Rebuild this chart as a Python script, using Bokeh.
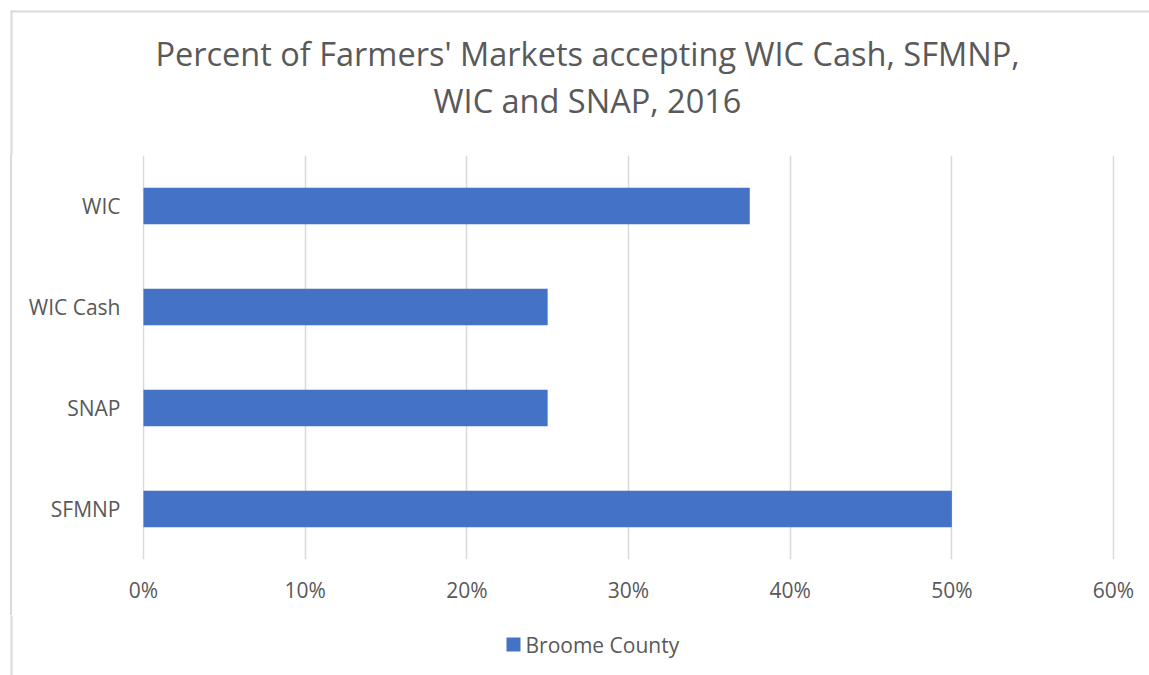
from bokeh.plotting import figure
from bokeh.layouts import column, row
from bokeh.models import Range1d, FactorRange, FixedTicker, NumeralTickFormatter, Div
from bokeh.core.properties import value
from bokeh.embed import file_html
from bokeh.resources import INLINE

categories = ["SFMNP", "SNAP", "WIC Cash", "WIC"]
values = [0.50, 0.25, 0.25, 0.375]
x_ticks = [0, 0.1, 0.2, 0.3, 0.4, 0.5, 0.6]
title_lines = ["Percent of Farmers' Markets accepting WIC Cash, SFMNP,", "WIC and SNAP, 2016"]
series_name = "Broome County"

FONT = "Open Sans"
TXT = "#595959"
BAR = "#4472C4"
GRID = "#d9d9d9"
EDGE = "#d9d9d9"

W, H = 1149, 675
TOP_H = 155          # title strip height
MID_H = 460          # main plot height
BOT_H = H - TOP_H - MID_H
STRIP_W = 13         # left strip carrying the chart border
FL, FR = 142, 1114   # frame edges (page px)


def blank(w, h):
    f = figure(width=w, height=h, x_range=Range1d(0, w), y_range=Range1d(h, 0),
               x_axis_type=None, y_axis_type=None, toolbar_location=None,
               output_backend="svg", min_border=0, title=None)
    f.outline_line_color = None
    f.grid.grid_line_color = None
    return f


# --- title strip ---
top = blank(W, TOP_H)
top.segment(x0=[10, 11], y0=[11, 10], x1=[W, 11], y1=[11, TOP_H + 2], line_color=EDGE, line_width=2)
top.text(x=[587, 587], y=[53, 100], text=title_lines, text_font=value(FONT),
         text_font_size="32.5px", text_color=TXT, text_align="center", text_baseline="alphabetic")

# --- left border strip (plain html element) ---
strip = Div(text="", width=STRIP_W, height=MID_H, margin=(0, 0, 0, 0),
            styles={"background": "linear-gradient(to right, white 0px, white 10px, #d9d9d9 10px, "
                                  "#d9d9d9 12px, white 12px)", "padding": "0px", "margin": "0px"})

# --- main plot ---
p = figure(width=W - STRIP_W, height=MID_H, y_range=FactorRange(*categories),
           x_range=Range1d(-0.0006, 0.6006), output_backend="svg", toolbar_location=None, title=None,
           min_border_left=FL - STRIP_W, min_border_right=W - FR, min_border_top=0,
           min_border_bottom=MID_H - 404)
p.outline_line_color = None
r = p.hbar(y=categories, right=values, left=0, height=0.36, color=BAR, line_color=None)
p.xaxis.ticker = FixedTicker(ticks=x_ticks)
p.xaxis.formatter = NumeralTickFormatter(format="0%")
for ax in (p.xaxis[0], p.yaxis[0]):
    ax.axis_line_color = None
    ax.major_tick_line_color = None
    ax.minor_tick_line_color = None
    ax.major_label_text_font = FONT
    ax.major_label_text_font_size = "21px"
    ax.major_label_text_color = TXT
p.xaxis.major_label_standoff = 10
p.yaxis.major_label_standoff = 16
p.ygrid.grid_line_color = None
p.xgrid.grid_line_color = GRID
p.xgrid.grid_line_width = 1.5

# --- legend strip ---
bot = blank(W, BOT_H)
bot.segment(x0=[11], y0=[-2], x1=[11], y1=[BOT_H], line_color=EDGE, line_width=2)
bot.rect(x=[513], y=[29], width=14, height=14, fill_color=BAR, line_color=None)
bot.text(x=[525], y=[29], text=[series_name], text_font=value(FONT), text_font_size="21px",
         text_color=TXT, text_align="left", text_baseline="alphabetic")

layout = column(top, row(strip, p, spacing=0), bot, spacing=0)
open("out.html", "w").write(file_html(layout, INLINE))
